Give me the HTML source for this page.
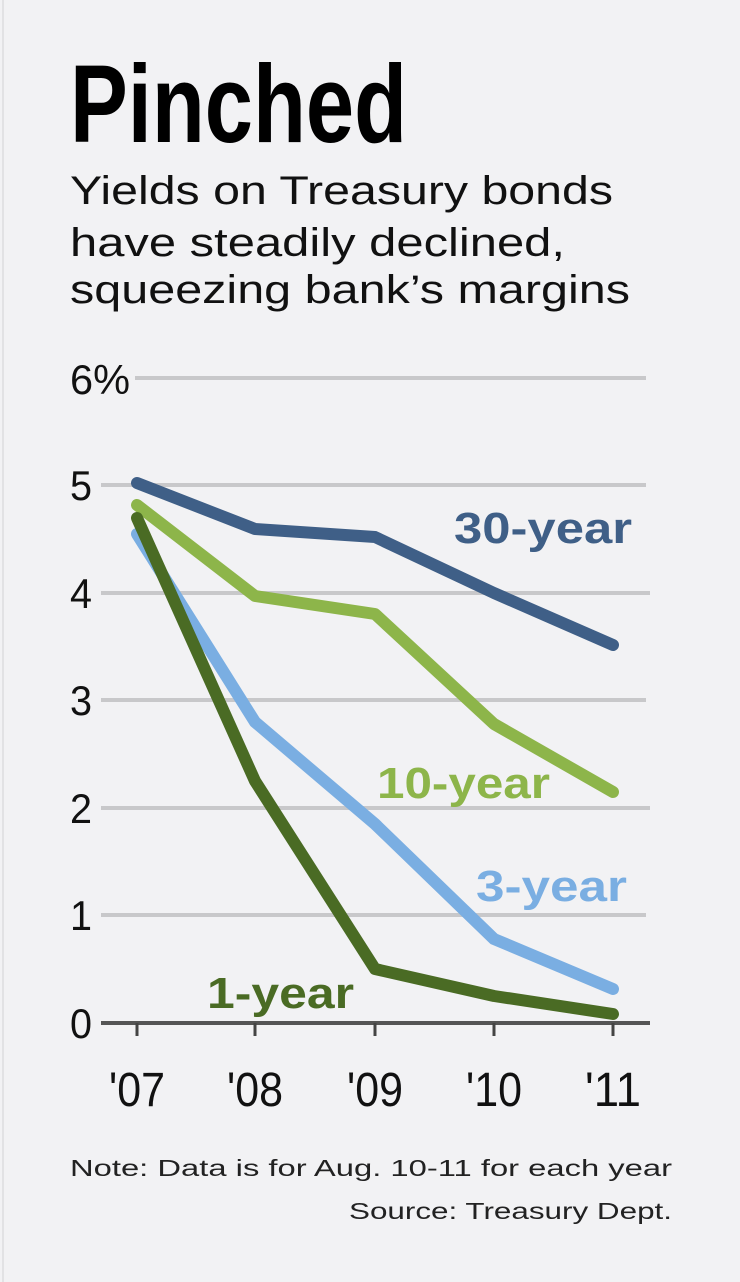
<!DOCTYPE html>
<html><head><meta charset="utf-8"><style>
html,body{margin:0;padding:0;background:#f2f2f4;}
svg{display:block;font-family:"Liberation Sans",sans-serif;}
</style></head><body>
<svg width="740" height="1282" viewBox="0 0 740 1282">
<rect width="740" height="1282" fill="#f2f2f4"/>
<line x1="3" y1="0" x2="3" y2="1282" stroke="#e2e2e4" stroke-width="2"/>
<text x="70" y="142" font-size="110" font-weight="bold" fill="#000" textLength="337" lengthAdjust="spacingAndGlyphs">Pinched</text>
<g font-size="40" fill="#111">
<text x="70" y="204" textLength="543" lengthAdjust="spacingAndGlyphs">Yields on Treasury bonds</text>
<text x="70" y="256" textLength="495" lengthAdjust="spacingAndGlyphs">have steadily declined,</text>
<text x="70" y="303" textLength="560" lengthAdjust="spacingAndGlyphs">squeezing bank’s margins</text>
</g>
<g stroke="#c8c8ca" stroke-width="4">
<line x1="135" y1="378" x2="646" y2="378"/>
<line x1="101" y1="485" x2="646" y2="485"/>
<line x1="101" y1="593" x2="650" y2="593"/>
<line x1="101" y1="700" x2="646" y2="700"/>
<line x1="101" y1="808" x2="650" y2="808"/>
<line x1="101" y1="915" x2="646" y2="915"/>
</g>
<line x1="101" y1="1023" x2="650" y2="1023" stroke="#555" stroke-width="4"/>
<g stroke="#444" stroke-width="3">
<line x1="137" y1="1023" x2="137" y2="1036"/>
<line x1="255" y1="1023" x2="255" y2="1036"/>
<line x1="375" y1="1023" x2="375" y2="1036"/>
<line x1="494" y1="1023" x2="494" y2="1036"/>
<line x1="613" y1="1023" x2="613" y2="1036"/>
</g>
<g font-size="42" fill="#111">
<text x="70" y="394" textLength="60" lengthAdjust="spacingAndGlyphs">6%</text>
<text x="70" y="500" textLength="22" lengthAdjust="spacingAndGlyphs">5</text>
<text x="70" y="608" textLength="22" lengthAdjust="spacingAndGlyphs">4</text>
<text x="70" y="715" textLength="22" lengthAdjust="spacingAndGlyphs">3</text>
<text x="70" y="823" textLength="22" lengthAdjust="spacingAndGlyphs">2</text>
<text x="70" y="930" textLength="22" lengthAdjust="spacingAndGlyphs">1</text>
<text x="70" y="1038" textLength="22" lengthAdjust="spacingAndGlyphs">0</text>
</g>
<g font-size="48" fill="#111" text-anchor="middle">
<text x="137" y="1106" textLength="56" lengthAdjust="spacingAndGlyphs">'07</text>
<text x="255" y="1106" textLength="56" lengthAdjust="spacingAndGlyphs">'08</text>
<text x="375" y="1106" textLength="56" lengthAdjust="spacingAndGlyphs">'09</text>
<text x="494" y="1106" textLength="56" lengthAdjust="spacingAndGlyphs">'10</text>
<text x="613" y="1106" textLength="56" lengthAdjust="spacingAndGlyphs">'11</text>
</g>
<g fill="none" stroke-width="12" stroke-linejoin="round" stroke-linecap="round">
<polyline stroke="#3f5f87" points="137,483 255,529 375,537 494,593 613,645"/>
<polyline stroke="#8db54a" points="137,505 255,596 375,614 494,724 613,792"/>
<polyline stroke="#7aaee2" points="137,534 255,722 375,824 494,939 613,989"/>
<polyline stroke="#4a6b24" points="137,518 255,781 375,969 494,996 613,1014"/>
</g>
<g font-size="44" font-weight="bold">
<text x="454" y="543" fill="#3f5f87" textLength="178" lengthAdjust="spacingAndGlyphs">30-year</text>
<text x="377" y="798" fill="#8db54a" textLength="173" lengthAdjust="spacingAndGlyphs">10-year</text>
<text x="476" y="901" fill="#7aaee2" textLength="151" lengthAdjust="spacingAndGlyphs">3-year</text>
<text x="207" y="1008" fill="#4a6b24" textLength="147" lengthAdjust="spacingAndGlyphs">1-year</text>
</g>
<g font-size="23" fill="#222">
<text x="70" y="1176" textLength="602" lengthAdjust="spacingAndGlyphs">Note: Data is for Aug. 10-11 for each year</text>
<text x="349" y="1219" textLength="323" lengthAdjust="spacingAndGlyphs">Source: Treasury Dept.</text>
</g>
</svg>
</body></html>
